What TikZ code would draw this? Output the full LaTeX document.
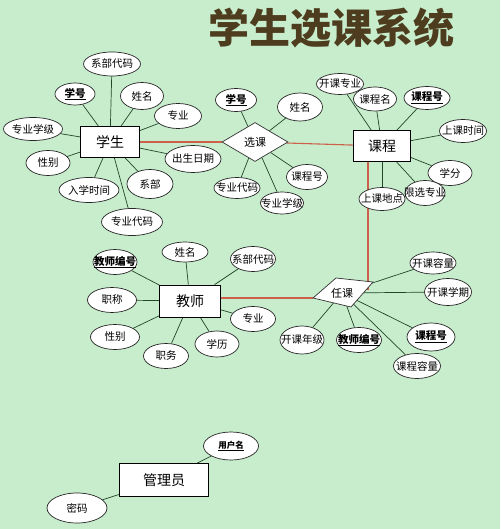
\documentclass[tikz,border=0pt]{standalone}
\usepackage{fontspec}
\setmainfont{Noto Sans CJK SC}
\usepackage{xcolor}
\usepackage{tikz}
\usetikzlibrary{shapes.geometric}

\definecolor{bgcol}{RGB}{199,237,204}
\definecolor{linkcol}{RGB}{35,70,40}
\definecolor{relcol}{RGB}{205,95,75}
\definecolor{titlecol}{RGB}{78,60,30}

\pgfdeclarelayer{bg}
\pgfdeclarelayer{lines}
\pgfsetlayers{bg,lines,main}

\tikzset{
    attr/.style 2 args={ellipse, draw=black!85, fill=white, line width=0.7pt,
        inner xsep=-12pt, inner ysep=-4pt, minimum width=#1pt, minimum height=#2pt,
        font=\fontsize{10.5}{12}\selectfont},
    entity/.style 2 args={rectangle, draw=black, fill=white, line width=0.8pt,
        inner sep=0pt, minimum width=#1pt, minimum height=#2pt,
        font=\fontsize{14}{16}\selectfont},
    link/.style={draw=linkcol, line width=0.7pt},
    rel/.style={draw=relcol, line width=1.1pt},
    relshape/.style={draw=black!80, fill=white, line width=0.7pt},
}
\newcommand{\pk}[1]{\underline{\textbf{#1}}}

\begin{document}
\begin{tikzpicture}[x=1pt, y=-1pt]
            \begin{pgfonlayer}{bg}
                \fill[bgcol] (0,0) rectangle (500,529);
            \end{pgfonlayer}
            \useasboundingbox (0,0) rectangle (500,529);

            \node[font=\fontsize{41}{44}\selectfont\bfseries, text=titlecol] (title) at (331,28) {学生选课系统};

            % entities
            \node[entity={59}{31}] (xuesheng) at (110,142) {学生};
            \node[entity={57}{31}] (kecheng) at (382,146) {课程};
            \node[entity={61}{32}] (jiaoshi) at (190,301) {教师};
            \node[entity={89}{33}] (guanli) at (164,480) {管理员};

            % relationships
            \node[diamond, relshape, inner sep=0pt, minimum width=66pt, minimum height=39pt,
                  font=\fontsize{11}{13}\selectfont] (xuanke) at (255,142) {选课};
            \coordinate (rk1) at (336,278);
            \coordinate (rk2) at (373,282);
            \coordinate (rk3) at (351,307);
            \coordinate (rk4) at (313,298);
            \draw[relshape] (rk1) -- (rk2) -- (rk3) -- (rk4) -- cycle;
            \node[font=\fontsize{11}{13}\selectfont] (renke) at (342,293) {任课};
            \coordinate (rkin) at (368,290);

            % student attributes
            \node[attr={57}{24}] (xs-xbdm) at (112,64) {系部代码};
            \node[attr={40}{22}] (xs-xh) at (75,94) {\pk{学号}};
            \node[attr={43}{27}] (xs-xm) at (142,96) {姓名};
            \node[attr={47}{25}] (xs-zy) at (178,116) {专业};
            \node[attr={59}{23}] (xs-zyxj) at (33,129) {专业学级};
            \node[attr={44}{25}] (xs-xb) at (48,163) {性别};
            \node[attr={56}{27}] (xs-csrq) at (193,159) {出生日期};
            \node[attr={60}{25}] (xs-rxsj) at (89,190) {入学时间};
            \node[attr={46}{29}] (xs-xbu) at (150,184) {系部};
            \node[attr={61}{27}] (xs-zydm) at (132,222) {专业代码};

            % xuanke attributes
            \node[attr={41}{23}] (xk-xh) at (236,100) {\pk{学号}};
            \node[attr={45}{28}] (xk-xm) at (300,107) {姓名};
            \node[attr={41}{25}] (xk-kch) at (307,177) {课程号};
            \node[attr={46}{21}] (xk-zydm) at (237,188) {专业代码};
            \node[attr={43}{22}] (xk-zyxj) at (282,203) {专业学级};

            % course attributes
            \node[attr={47}{21}] (kc-kkzy) at (340,84) {开课专业};
            \node[attr={43}{24}] (kc-kcm) at (375,99) {课程名};
            \node[attr={46}{23}] (kc-kch) at (427,98) {\pk{课程号}};
            \node[attr={47}{23}] (kc-sksj) at (463,131) {上课时间};
            \node[attr={44}{25}] (kc-xf) at (450,173) {学分};
            \node[attr={46}{23}] (kc-skdd) at (382,199) {上课地点};
            \node[attr={40}{25}] (kc-xxzy) at (425,193) {限选专业};

            % renke attributes
            \node[attr={46}{22}] (rk-kkrl) at (433,263) {开课容量};
            \node[attr={47}{27}] (rk-kkxq) at (448,292) {开课学期};
            \node[attr={48}{28}] (rk-kch) at (431,337) {\pk{课程号}};
            \node[attr={47}{25}] (rk-kcrl) at (417,366) {课程容量};
            \node[attr={45}{25}] (rk-jsbh) at (359,340) {\pk{教师编号}};
            \node[attr={44}{28}] (rk-kknj) at (302,340) {开课年级};

            % teacher attributes
            \node[attr={46}{20}] (js-xm) at (185,252) {姓名};
            \node[attr={44}{25}] (js-jsbh) at (115,262) {\pk{教师编号}};
            \node[attr={45}{25}] (js-xbdm) at (253,259) {系部代码};
            \node[attr={49}{25}] (js-zc) at (112,300) {职称};
            \node[attr={45}{25}] (js-zy) at (253,319) {专业};
            \node[attr={49}{25}] (js-xb) at (115,337) {性别};
            \node[attr={45}{25}] (js-zw) at (166,356) {职务};
            \node[attr={44}{26}] (js-xl) at (217,344) {学历};

            % admin attributes
            \node[attr={55}{28}, font=\fontsize{8.5}{10}\selectfont] (gl-yhm) at (231,446) {\pk{用户名}};
            \node[attr={60}{30}] (gl-mm) at (77,508) {密码};

            \begin{pgfonlayer}{lines}
                \foreach \a in {xs-xbdm, xs-xh, xs-xm, xs-zy, xs-zyxj, xs-xb, xs-csrq, xs-rxsj, xs-xbu, xs-zydm}
                    \draw[link] (xuesheng) -- (\a);
                \foreach \a in {xk-xh, xk-xm, xk-kch, xk-zydm, xk-zyxj}
                    \draw[link] (xuanke) -- (\a);
                \foreach \a in {kc-kkzy, kc-kcm, kc-kch, kc-sksj, kc-xf, kc-skdd, kc-xxzy}
                    \draw[link] (kecheng) -- (\a);
                \foreach \a in {rk-kkrl, rk-kkxq, rk-kch, rk-kcrl, rk-jsbh, rk-kknj}
                    \draw[link] (renke) -- (\a);
                \foreach \a in {js-xm, js-jsbh, js-xbdm, js-zc, js-zy, js-xb, js-zw, js-xl}
                    \draw[link] (jiaoshi) -- (\a);
                \foreach \a in {gl-yhm, gl-mm}
                    \draw[link] (guanli) -- (\a);

                \draw[rel] (xuesheng) -- (xuanke);
                \draw[rel] (xuanke) -- (kecheng);
                \draw[rel] (kecheng.center -| rkin) -- (rkin);
                \draw[rel] (jiaoshi.center |- rk4) -- (rk4);
            \end{pgfonlayer}
        \end{tikzpicture}
\end{document}
